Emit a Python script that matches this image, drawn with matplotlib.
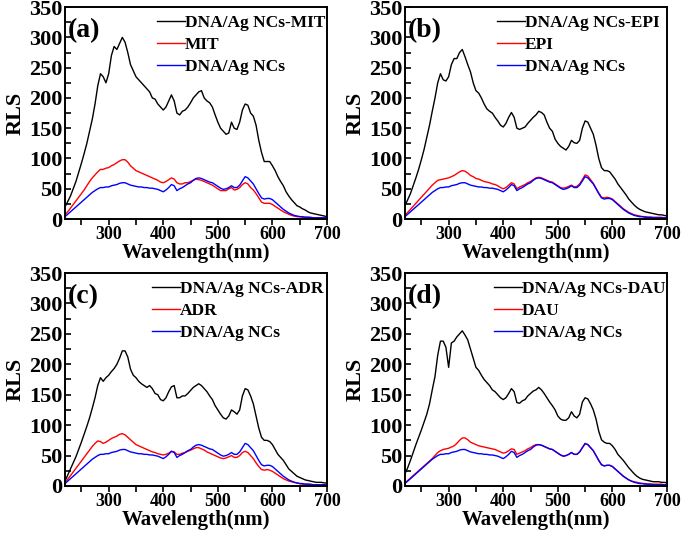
import numpy as np
import matplotlib
matplotlib.use("Agg")
import matplotlib.pyplot as plt
from matplotlib.ticker import MultipleLocator

plt.rcParams['font.family'] = ['Liberation Serif', 'DejaVu Serif']
plt.rcParams['font.weight'] = 'bold'

# Wavelength grid (nm), values read every 5 nm
wavelength = np.arange(220, 701, 5)

# DNA/Ag NCs spectrum (same in all four panels)
dna_ag = [4, 8, 12, 16, 20, 24, 28, 32, 36, 40,
          44, 47, 50, 52, 52, 53, 53, 55, 56, 57,
          59, 60, 60, 58, 56, 55, 54, 53, 53, 52,
          52, 51, 51, 50, 49, 47, 45, 48, 52, 57,
          55, 47, 50, 52, 55, 58, 60, 64, 67, 68,
          67, 65, 63, 61, 60, 57, 54, 51, 49, 50,
          52, 55, 52, 52, 56, 63, 70, 68, 63, 58,
          50, 42, 35, 33, 34, 34, 32, 28, 24, 20,
          16, 13, 10, 8, 6, 5, 4, 4, 3, 3,
          3, 2, 2, 2, 2, 2, 2]

# (a) MIT
mit = [7, 12, 18, 24, 30, 36, 42, 48, 55, 62,
       68, 73, 78, 82, 82, 84, 85, 88, 90, 93,
       96, 98, 98, 94, 88, 84, 80, 78, 76, 74,
       72, 70, 68, 66, 64, 61, 60, 62, 65, 68,
       66, 60, 58, 58, 60, 60, 62, 64, 66, 65,
       64, 62, 60, 58, 56, 53, 50, 47, 47, 47,
       50, 52, 48, 49, 52, 57, 60, 58, 52, 48,
       42, 35, 28, 26, 26, 26, 24, 21, 18, 15,
       12, 10, 8, 6, 5, 4, 4, 3, 3, 3,
       2, 2, 2, 2, 2, 2, 2]
dna_ag_mit = [20, 29, 38, 50, 62, 77, 92, 108, 125, 145,
              165, 190, 220, 240, 235, 225, 240, 270, 285, 280,
              290, 300, 292, 275, 255, 245, 235, 230, 225, 220,
              215, 210, 200, 198, 190, 185, 180, 185, 195, 205,
              195, 175, 172, 178, 180, 185, 192, 200, 205, 210,
              212, 200, 195, 192, 185, 172, 160, 150, 145, 140,
              142, 160, 150, 148, 160, 180, 190, 188, 175, 170,
              155, 130, 110, 95, 95, 95, 88, 80, 70, 62,
              55, 45, 38, 32, 27, 22, 20, 17, 15, 12,
              10, 9, 8, 7, 6, 5, 4]

# (b) EPI
epi = [6, 11, 16, 21, 26, 31, 36, 41, 46, 51,
       56, 60, 64, 65, 66, 67, 68, 70, 72, 75,
       78, 80, 79, 76, 72, 70, 67, 66, 64, 62,
       61, 60, 58, 57, 55, 52, 50, 52, 56, 60,
       58, 50, 53, 55, 57, 60, 62, 65, 68, 69,
       68, 66, 64, 62, 61, 58, 55, 52, 51, 52,
       54, 56, 53, 54, 58, 65, 73, 71, 65, 59,
       51, 43, 36, 35, 36, 35, 33, 29, 25, 21,
       17, 14, 11, 9, 7, 6, 5, 4, 4, 3,
       3, 3, 3, 3, 3, 2, 2]
dna_ag_epi = [22, 32, 42, 55, 68, 82, 98, 115, 135, 155,
              178, 200, 225, 240, 230, 228, 235, 255, 265, 265,
              275, 280, 268, 255, 243, 225, 212, 208, 200, 190,
              182, 178, 175, 168, 162, 155, 152, 158, 168, 176,
              168, 150, 148, 150, 152, 158, 163, 168, 172, 178,
              176, 172, 160, 150, 145, 132, 125, 120, 117, 114,
              120, 130, 126, 125, 130, 150, 162, 160, 150, 140,
              122, 100, 85, 80, 80, 78, 72, 66, 58, 52,
              46, 40, 33, 28, 23, 19, 16, 14, 12, 11,
              10, 9, 8, 7, 7, 6, 5]

# (c) ADR
adr = [6, 11, 17, 23, 29, 35, 41, 47, 53, 59,
       65, 70, 74, 73, 70, 72, 75, 78, 80, 82,
       85, 86, 84, 80, 76, 72, 68, 66, 64, 62,
       60, 58, 56, 55, 53, 52, 51, 52, 54, 57,
       56, 52, 52, 54, 55, 57, 59, 61, 63, 63,
       61, 59, 56, 54, 52, 50, 48, 46, 45, 46,
       48, 50, 47, 47, 50, 55, 57, 55, 50, 45,
       38, 32, 27, 26, 27, 26, 24, 21, 18, 15,
       12, 10, 8, 7, 6, 5, 4, 3, 3, 3,
       2, 2, 2, 2, 2, 2, 2]
dna_ag_adr = [8, 18, 28, 38, 48, 60, 72, 85, 98, 112,
              128, 145, 165, 178, 172, 178, 182, 188, 193, 200,
              210, 222, 222, 212, 192, 182, 178, 172, 168, 165,
              162, 165, 160, 152, 150, 142, 140, 145, 155, 163,
              165, 145, 145, 148, 148, 152, 157, 162, 165, 168,
              165, 160, 155, 148, 142, 132, 125, 118, 112, 110,
              115, 125, 122, 118, 125, 148, 160, 158, 148, 135,
              115, 95, 80, 75, 75, 73, 68, 60, 52, 47,
              42, 35, 28, 24, 20, 16, 14, 12, 10, 9,
              8, 7, 6, 6, 6, 5, 5]

# (d) DAU
dau = [5, 9, 13, 17, 21, 25, 29, 33, 37, 41,
       45, 50, 55, 58, 60, 61, 62, 64, 66, 70,
       75, 79, 79, 76, 72, 70, 68, 66, 65, 64,
       63, 62, 61, 60, 58, 56, 54, 55, 58, 61,
       60, 52, 54, 56, 58, 61, 63, 66, 68, 68,
       67, 65, 63, 61, 60, 57, 54, 51, 49, 50,
       52, 55, 52, 52, 56, 63, 69, 68, 63, 58,
       50, 42, 35, 33, 34, 34, 32, 28, 24, 20,
       16, 13, 10, 8, 7, 6, 5, 4, 4, 3,
       3, 3, 3, 3, 3, 2, 2]
dna_ag_dau = [20, 30, 42, 55, 68, 80, 92, 105, 118, 135,
              158, 180, 215, 238, 238, 228, 195, 235, 238, 245,
              250, 255, 248, 240, 225, 210, 195, 190, 182, 175,
              170, 165, 158, 155, 150, 145, 142, 145, 152, 160,
              155, 137, 136, 140, 142, 148, 152, 156, 158, 162,
              158, 152, 145, 138, 132, 125, 115, 110, 108, 108,
              112, 122, 115, 112, 118, 138, 145, 143, 135, 125,
              110, 90, 76, 72, 70, 70, 66, 60, 52, 47,
              42, 36, 30, 25, 20, 16, 13, 11, 10, 9,
              8, 7, 7, 7, 6, 6, 5]


# Draw one panel
def draw_panel(ax, tag, drug, black, red, leg_x):
    ax.plot(wavelength, black, color='black', lw=1.0, label='DNA/Ag NCs-' + drug)
    ax.plot(wavelength, red, color='red', lw=1.0, label=drug)
    ax.plot(wavelength, dna_ag, color='blue', lw=1.0, label='DNA/Ag NCs')

    ax.set_xlim(220, 700)
    ax.set_ylim(0, 350)
    ax.xaxis.set_major_locator(MultipleLocator(100))
    ax.xaxis.set_minor_locator(MultipleLocator(50))
    ax.yaxis.set_major_locator(MultipleLocator(50))
    ax.yaxis.set_minor_locator(MultipleLocator(25))
    ax.tick_params(axis='x', which='both', direction='out', labelsize=13,
                   pad=1, length=4, width=1.2)
    ax.tick_params(axis='y', which='both', direction='in', labelsize=16,
                   pad=2, length=4, width=1.2)
    for s in ax.spines.values():
        s.set_linewidth(1.4)

    ax.set_xlabel('Wavelength(nm)', fontsize=15, fontweight='bold', labelpad=0)
    ax.set_ylabel('RLS', fontsize=16, fontweight='bold', labelpad=2)
    ax.text(0.01, 0.95, tag, transform=ax.transAxes, fontsize=20,
            fontweight='bold', va='top', ha='left')
    ax.legend(loc='upper left', bbox_to_anchor=(leg_x, 0.965), frameon=False,
              handlelength=1.6, handletextpad=0.0,
              borderpad=0, borderaxespad=0, labelspacing=0.35,
              prop={'weight': 'bold', 'size': 12.5})


fig = plt.figure(figsize=(6.85, 5.33), dpi=100)
ax_a = fig.add_axes([0.0949, 0.589, 0.3825, 0.3977])
ax_b = fig.add_axes([0.5912, 0.589, 0.3825, 0.3977])
ax_c = fig.add_axes([0.0949, 0.0882, 0.3825, 0.3996])
ax_d = fig.add_axes([0.5912, 0.0882, 0.3825, 0.3996])

draw_panel(ax_a, '(a)', 'MIT', dna_ag_mit, mit, 0.351)
draw_panel(ax_b, '(b)', 'EPI', dna_ag_epi, epi, 0.351)
draw_panel(ax_c, '(c)', 'ADR', dna_ag_adr, adr, 0.332)
draw_panel(ax_d, '(d)', 'DAU', dna_ag_dau, dau, 0.34)

fig.savefig('out.png', dpi=100)
